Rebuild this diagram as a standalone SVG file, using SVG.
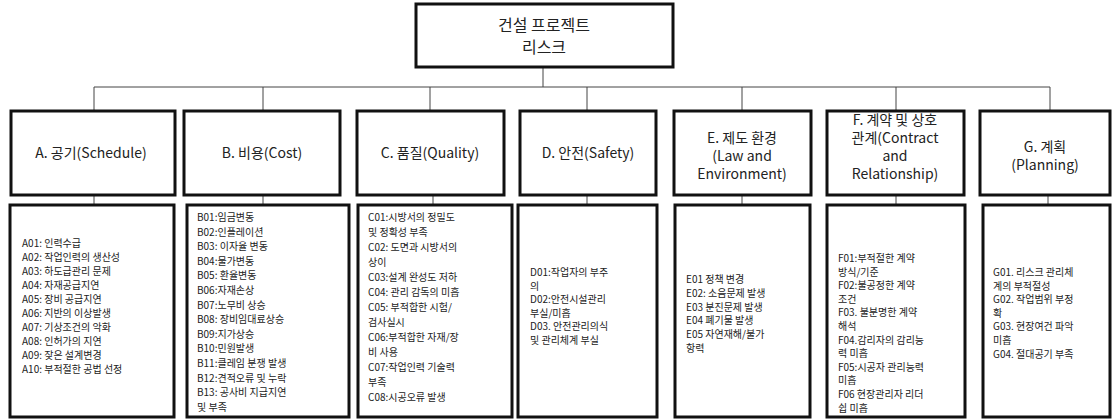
<svg xmlns="http://www.w3.org/2000/svg" width="1114" height="420" viewBox="0 0 1114 420">
<style>
.box{fill:#fff;stroke:#111;stroke-width:3}
.cn{fill:none;stroke:#444;stroke-width:1}
.t{font-family:"Noto Sans CJK KR","Noto Sans",sans-serif;fill:#222}
.ttl{font-size:16px;text-anchor:middle}
.cat{font-size:14px;text-anchor:middle}
.det{font-size:10px}
</style>
<rect width="1114" height="420" fill="#fff"/>
<g id="connectors">
<path class="cn" d="M543 67V87M94 87H1050M94 87V111M263 87V111M430 87V111M587 87V111M742 87V111M896 87V111M1050 87V111"/>
<path class="cn" d="M94 195V205M263 195V205M433 195V205M587 195V205M742 195V205M896 195V205M1048 195V205"/>
</g>
<g id="root">
<rect class="box" x="416" y="4" width="257" height="63"/>
<text class="t ttl" x="544" y="31">건설 프로젝트</text>
<text class="t ttl" x="544" y="53">리스크</text>
</g>
<g id="catA">
<rect class="box" x="11" y="111" width="164" height="84"/>
<text class="t cat" x="91" y="158">A. 공기(Schedule)</text>
</g>
<g id="catB">
<rect class="box" x="184" y="111" width="156" height="84"/>
<text class="t cat" x="262" y="158">B. 비용(Cost)</text>
</g>
<g id="catC">
<rect class="box" x="357" y="111" width="147" height="84"/>
<text class="t cat" x="430" y="158">C. 품질(Quality)</text>
</g>
<g id="catD">
<rect class="box" x="520" y="111" width="136" height="84"/>
<text class="t cat" x="588" y="158">D. 안전(Safety)</text>
</g>
<g id="catE">
<rect class="box" x="674" y="111" width="137" height="84"/>
<text class="t cat" x="742" y="143">E. 제도 환경<tspan x="742" dy="18">(Law and</tspan><tspan x="742" dy="18">Environment)</tspan></text>
</g>
<g id="catF">
<rect class="box" x="827" y="111" width="137" height="84"/>
<text class="t cat" x="895" y="125">F. 계약 및 상호<tspan x="895" dy="18">관계(Contract</tspan><tspan x="895" dy="18">and</tspan><tspan x="895" dy="18">Relationship)</tspan></text>
</g>
<g id="catG">
<rect class="box" x="980" y="111" width="130" height="84"/>
<text class="t cat" x="1045" y="152">G. 계획<tspan x="1045" dy="18">(Planning)</tspan></text>
</g>
<g id="detA">
<rect class="box" x="10" y="205" width="164" height="212"/>
<text class="t det" x="22" y="247">A01: 인력수급<tspan x="22" dy="14">A02: 작업인력의 생산성</tspan><tspan x="22" dy="14">A03: 하도급관리 문제</tspan><tspan x="22" dy="14">A04: 자재공급지연</tspan><tspan x="22" dy="14">A05: 장비 공급지연</tspan><tspan x="22" dy="14">A06: 지반의 이상발생</tspan><tspan x="22" dy="14">A07: 기상조건의 악화</tspan><tspan x="22" dy="14">A08: 인허가의 지연</tspan><tspan x="22" dy="14">A09: 잦은 설계변경</tspan><tspan x="22" dy="14">A10: 부적절한 공법 선정</tspan></text>
</g>
<g id="detB">
<rect class="box" x="187" y="205" width="162" height="212"/>
<text class="t det" x="197" y="221">B01:임금변동<tspan x="197" dy="14.6">B02:인플레이션</tspan><tspan x="197" dy="14.6">B03: 이자율 변동</tspan><tspan x="197" dy="14.6">B04:물가변동</tspan><tspan x="197" dy="14.6">B05: 환율변동</tspan><tspan x="197" dy="14.6">B06:자재손상</tspan><tspan x="197" dy="14.6">B07:노무비 상승</tspan><tspan x="197" dy="14.6">B08: 장비임대료상승</tspan><tspan x="197" dy="14.6">B09:지가상승</tspan><tspan x="197" dy="14.6">B10:민원발생</tspan><tspan x="197" dy="14.6">B11:클레임 분쟁 발생</tspan><tspan x="197" dy="14.6">B12:견적오류 및 누락</tspan><tspan x="197" dy="14.6">B13: 공사비 지급지연</tspan><tspan x="197" dy="14.6">및 부족</tspan></text>
</g>
<g id="detC">
<rect class="box" x="358" y="205" width="154" height="212"/>
<text class="t det" x="368" y="221">C01:시방서의 정밀도<tspan x="368" dy="15">및 정확성 부족</tspan><tspan x="368" dy="15">C02: 도면과 시방서의</tspan><tspan x="368" dy="15">상이</tspan><tspan x="368" dy="15">C03:설계 완성도 저하</tspan><tspan x="368" dy="15">C04: 관리 감독의 미흡</tspan><tspan x="368" dy="15">C05: 부적합한 시험/</tspan><tspan x="368" dy="15">검사실시</tspan><tspan x="368" dy="15">C06:부적합한 자재/장</tspan><tspan x="368" dy="15">비 사용</tspan><tspan x="368" dy="15">C07:작업인력 기술력</tspan><tspan x="368" dy="15">부족</tspan><tspan x="368" dy="15">C08:시공오류 발생</tspan></text>
</g>
<g id="detD">
<rect class="box" x="518" y="205" width="139" height="212"/>
<text class="t det" x="530" y="276">D01:작업자의 부주<tspan x="530" dy="13.5">의</tspan><tspan x="530" dy="13.5">D02:안전시설관리</tspan><tspan x="530" dy="13.5">부실/미흡</tspan><tspan x="530" dy="13.5">D03. 안전관리의식</tspan><tspan x="530" dy="13.5">및 관리체계 부실</tspan></text>
</g>
<g id="detE">
<rect class="box" x="675" y="205" width="135" height="212"/>
<text class="t det" x="686" y="283">E01 정책 변경<tspan x="686" dy="13.8">E02: 소음문제 발생</tspan><tspan x="686" dy="13.8">E03 분진문제 발생</tspan><tspan x="686" dy="13.8">E04 폐기물 발생</tspan><tspan x="686" dy="13.8">E05 자연재해/불가</tspan><tspan x="686" dy="13.8">항력</tspan></text>
</g>
<g id="detF">
<rect class="box" x="827" y="205" width="138" height="212"/>
<text class="t det" x="838" y="262">F01:부적절한 계약<tspan x="838" dy="13.6">방식/기준</tspan><tspan x="838" dy="13.6">F02:불공정한 계약</tspan><tspan x="838" dy="13.6">조건</tspan><tspan x="838" dy="13.6">F03. 불분명한 계약</tspan><tspan x="838" dy="13.6">해석</tspan><tspan x="838" dy="13.6">F04.감리자의 감리능</tspan><tspan x="838" dy="13.6">력 미흡</tspan><tspan x="838" dy="13.6">F05:시공자 관리능력</tspan><tspan x="838" dy="13.6">미흡</tspan><tspan x="838" dy="13.6">F06 현장관리자 리더</tspan><tspan x="838" dy="13.6">쉽 미흡</tspan></text>
</g>
<g id="detG">
<rect class="box" x="983" y="205" width="127" height="212"/>
<text class="t det" x="993" y="276">G01. 리스크 관리체<tspan x="993" dy="13.6">계의 부적절성</tspan><tspan x="993" dy="13.6">G02. 작업범위 부정</tspan><tspan x="993" dy="13.6">확</tspan><tspan x="993" dy="13.6">G03. 현장여건 파악</tspan><tspan x="993" dy="13.6">미흡</tspan><tspan x="993" dy="13.6">G04. 절대공기 부족</tspan></text>
</g>
</svg>
